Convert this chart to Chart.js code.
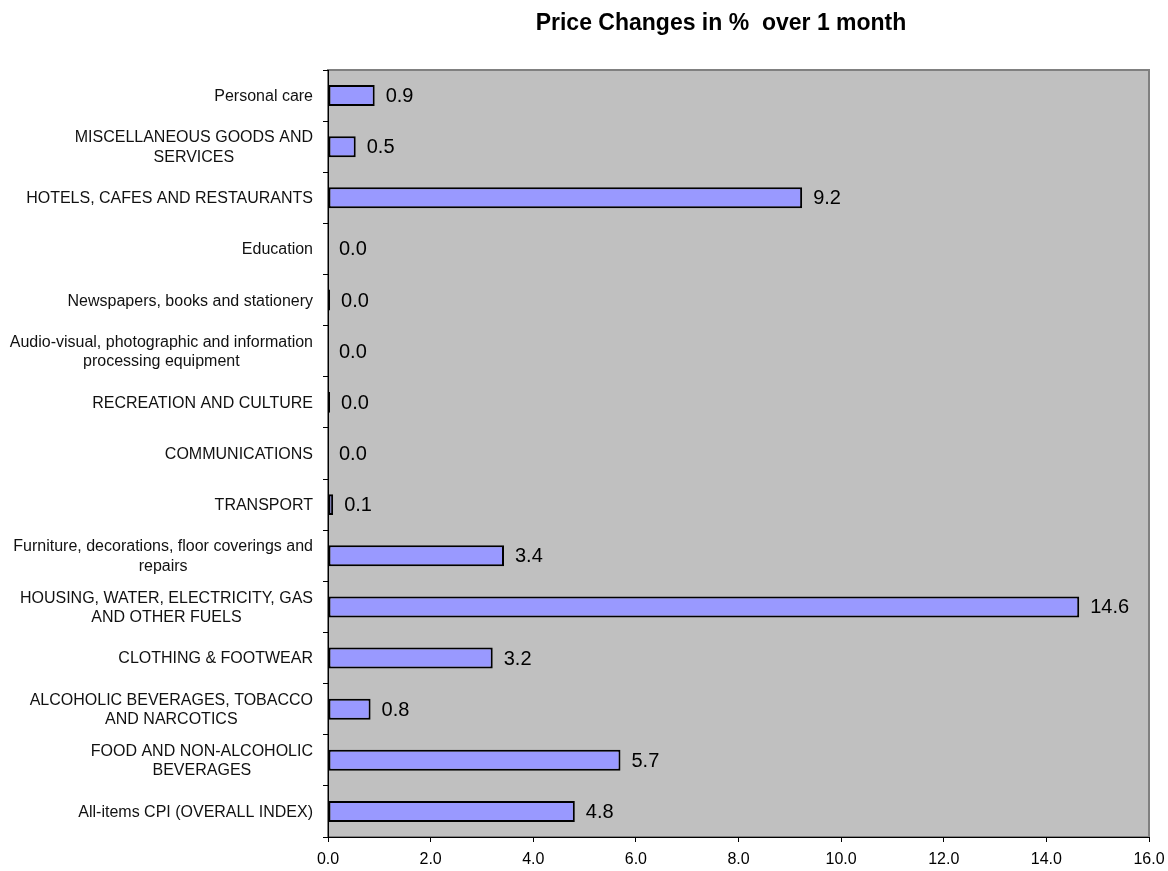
<!DOCTYPE html>
<html>
<head>
<meta charset="utf-8">
<script src="https://cdn.jsdelivr.net/npm/chart.js@4/dist/chart.umd.min.js"></script>
<style>
  html, body { margin: 0; padding: 0; background: #fff; }
  canvas { display: block; }
</style>
</head>
<body>
<canvas id="myChart" width="1168" height="871"></canvas>
<script>
// categories, top to bottom
const categorias = [
  'Personal care',
  ['MISCELLANEOUS GOODS AND', 'SERVICES'],
  'HOTELS, CAFES AND RESTAURANTS',
  'Education',
  'Newspapers, books and stationery',
  ['Audio-visual, photographic and information', 'processing equipment'],
  'RECREATION AND CULTURE',
  'COMMUNICATIONS',
  'TRANSPORT',
  ['Furniture, decorations, floor coverings and', 'repairs'],
  ['HOUSING, WATER, ELECTRICITY, GAS', 'AND OTHER FUELS'],
  'CLOTHING & FOOTWEAR',
  ['ALCOHOLIC BEVERAGES, TOBACCO', 'AND NARCOTICS'],
  ['FOOD AND NON-ALCOHOLIC', 'BEVERAGES'],
  'All-items CPI (OVERALL INDEX)'
];

// % change over 1 month
const variacao = [0.91, 0.54, 9.24, 0, 0.04, 0, 0.04, 0, 0.1, 3.43, 14.64, 3.21, 0.83, 5.7, 4.81];

const eixoX = { min: 0, max: 16, passo: 2 };
const titulo = 'Price Changes in %  over 1 month';

const fonte = '"Liberation Sans", Arial, sans-serif';

// grey plot area with a grey frame
const fundo = {
  id: 'fundo',
  beforeDraw(chart) {
    const a = chart.chartArea;
    const ctx = chart.ctx;
    ctx.save();
    ctx.fillStyle = '#C0C0C0';
    ctx.fillRect(a.left, a.top, a.right - a.left, a.bottom - a.top);
    ctx.strokeStyle = '#808080';
    ctx.lineWidth = 2;
    ctx.strokeRect(a.left, a.top, a.right - a.left, a.bottom - a.top);
    ctx.restore();
  }
};

// value labels + category labels + title
const textos = {
  id: 'textos',
  afterDatasetsDraw(chart) {
    const ctx = chart.ctx;
    const meta = chart.getDatasetMeta(0);
    ctx.save();
    ctx.font = '20px ' + fonte;
    ctx.fillStyle = '#000';
    ctx.textAlign = 'left';
    ctx.textBaseline = 'middle';
    meta.data.forEach((bar, i) => {
      ctx.fillText(variacao[i].toFixed(1), bar.x + 11, bar.y + 1);
    });
    ctx.restore();
  },
  afterDraw(chart) {
    const ctx = chart.ctx;
    const yScale = chart.scales.y;
    ctx.save();
    ctx.font = '16px ' + fonte;
    ctx.fillStyle = '#111';
    ctx.textAlign = 'center';
    ctx.textBaseline = 'middle';
    const direita = 313;
    const alturaLinha = 19.5;
    categorias.forEach((c, i) => {
      const linhas = Array.isArray(c) ? c : [c];
      const larg = Math.max(...linhas.map(l => ctx.measureText(l).width));
      const cx = direita - larg / 2;
      const y0 = yScale.getPixelForValue(i) - (linhas.length - 1) * alturaLinha / 2;
      linhas.forEach((l, k) => ctx.fillText(l, cx, y0 + k * alturaLinha + 1));
    });

    ctx.font = 'bold 23px ' + fonte;
    ctx.fillStyle = '#000';
    ctx.textBaseline = 'alphabetic';
    ctx.fillText(titulo, 721, 30);
    ctx.restore();
  }
};

const canvas = document.getElementById('myChart');
const ctx = canvas.getContext('2d');

const chart = new Chart(ctx, {
  type: 'bar',
  data: {
    labels: categorias,
    datasets: [{
      label: 'Price Changes',
      data: variacao,
      backgroundColor: '#9999FF',
      borderColor: '#000',
      borderWidth: 2,
      borderSkipped: false,
      barPercentage: 0.41,
      categoryPercentage: 1
    }]
  },
  options: {
    indexAxis: 'y',
    responsive: false,
    animation: false,
    devicePixelRatio: 1,
    layout: { padding: { top: 70, right: 19, left: 0, bottom: 0 } },
    plugins: {
      legend: { display: false },
      tooltip: { enabled: false },
      title: { display: false }
    },
    scales: {
      x: {
        min: eixoX.min,
        max: eixoX.max,
        ticks: {
          stepSize: eixoX.passo,
          callback: v => v.toFixed(1),
          color: '#000',
          font: { family: fonte, size: 16 },
          padding: 8,
          maxRotation: 0
        },
        grid: { drawOnChartArea: false, tickLength: 5, color: '#000', lineWidth: 1 },
        border: { color: '#000', width: 1 },
        afterFit(scale) {
          scale.height = 34;
          scale.paddingLeft = 0;
          scale.paddingRight = 0;
        }
      },
      y: {
        ticks: { display: false },
        grid: { drawOnChartArea: false, tickLength: 5, color: '#000', lineWidth: 1, offset: true },
        border: { color: '#000', width: 1 },
        afterFit(scale) { scale.width = 328; }
      }
    }
  },
  plugins: [fundo, textos]
});
</script>
</body>
</html>
